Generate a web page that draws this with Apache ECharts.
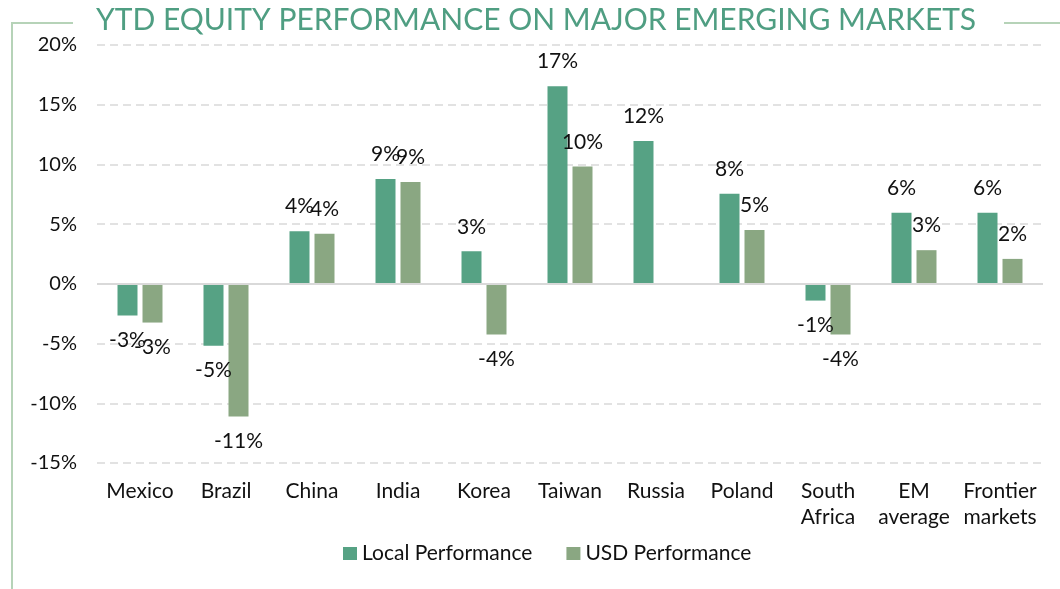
<!DOCTYPE html>
<html>
<head>
<meta charset="utf-8">
<script src="https://cdn.jsdelivr.net/npm/echarts@6/dist/echarts.min.js"></script>
<style>
  html, body { margin: 0; padding: 0; background: #fff; }
  #chart { width: 1060px; height: 589px; }
</style>
</head>
<body>
<div id="chart"></div>
<script>
// values (percent)
var categories = ['Mexico', 'Brazil', 'China', 'India', 'Korea', 'Taiwan', 'Russia', 'Poland', 'South\nAfrica', 'EM\naverage', 'Frontier\nmarkets'];
var localPerf = [-2.65, -5.19, 4.41, 8.79, 2.73, 16.55, 11.97, 7.54, -1.40, 5.95, 5.95];
var usdPerf = [-3.24, -11.1, 4.19, 8.52, -4.25, 9.82, null, 4.52, -4.25, 2.82, 2.09];
var seriesNames = ['Local Performance', 'USD Performance'];

var font = 'Lato, "Open Sans", sans-serif';
var lineGreen = '#b6d3b8';

// put the label above positive bars and below negative ones, like Excel
function withLabels(values) {
    return values.map(function(v) {
        if (v == null) return null;
        return { value: v, label: { position: v < 0 ? 'bottom' : 'top' } };
    });
}

var labelStyle = {
    show: true,
    distance: 14,
    fontFamily: font,
    fontSize: 21,
    color: '#111',
    formatter: function(p) {
        return Math.round(p.value) + '%';
    }
};

var chart = echarts.init(document.getElementById('chart'));

chart.setOption({
    animation: false,
    textStyle: { fontFamily: font },
    title: {
        text: 'YTD EQUITY PERFORMANCE ON MAJOR EMERGING MARKETS',
        left: 96,
        top: 5,
        padding: 0,
        textStyle: {
            fontFamily: font,
            fontSize: 30,
            fontWeight: 'normal',
            color: '#4f9e82'
        }
    },
    // frame lines round the title
    graphic: [
        { type: 'polyline', shape: { points: [[73, 23], [12, 23], [12, 589]] },
          style: { stroke: lineGreen, lineWidth: 2, fill: null } },
        { type: 'line', shape: { x1: 1004, y1: 23, x2: 1060, y2: 23 },
          style: { stroke: lineGreen, lineWidth: 2 } }
    ],
    legend: {
        left: 338,
        top: 538,
        itemWidth: 14,
        itemHeight: 13,
        itemGap: 34,
        icon: 'rect',
        textStyle: { fontFamily: font, fontSize: 21, color: '#111' },
        data: seriesNames
    },
    grid: { left: 97, right: 17, top: 45, bottom: 126 },
    xAxis: {
        type: 'category',
        data: categories,
        axisLine: { show: false, onZero: false },
        axisTick: { show: false },
        axisLabel: {
            margin: 15,
            fontFamily: font,
            fontSize: 21,
            lineHeight: 26,
            color: '#111',
            interval: 0
        }
    },
    yAxis: {
        type: 'value',
        min: -15,
        max: 20,
        interval: 5,
        axisLine: { show: false },
        axisTick: { show: false },
        axisLabel: {
            margin: 20,
            fontFamily: font,
            fontSize: 20,
            color: '#111',
            formatter: '{value}%'
        },
        splitLine: {
            lineStyle: { color: '#d9d9d9', width: 1.5, type: [8, 5] }
        }
    },
    series: [
        {
            name: seriesNames[0],
            type: 'bar',
            barWidth: 20,
            barGap: '25%',
            itemStyle: { color: '#56a284' },
            label: labelStyle,
            data: withLabels(localPerf),
            // solid zero line
            markLine: {
                silent: true,
                symbol: 'none',
                label: { show: false },
                lineStyle: { color: '#d9d9d9', width: 2, type: 'solid' },
                data: [{ yAxis: 0 }]
            }
        },
        {
            name: seriesNames[1],
            type: 'bar',
            barWidth: 20,
            barGap: '25%',
            itemStyle: { color: '#8aa782' },
            label: labelStyle,
            data: withLabels(usdPerf)
        }
    ]
});
</script>
</body>
</html>
